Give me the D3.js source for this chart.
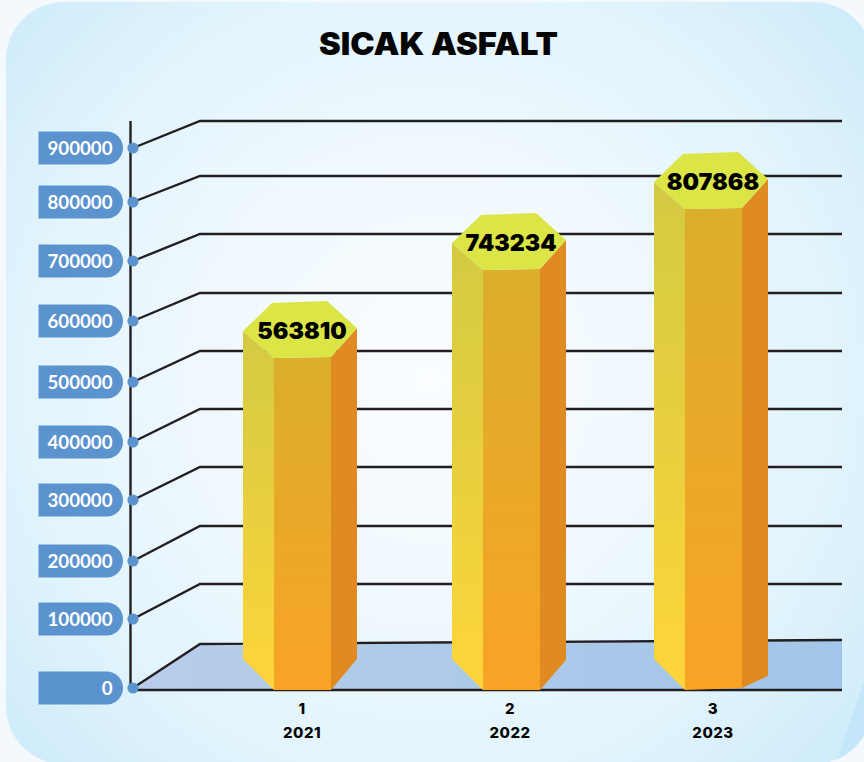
<!DOCTYPE html>
<html><head><meta charset="utf-8">
<script src="https://cdn.jsdelivr.net/npm/d3@7/dist/d3.min.js"></script>
<style>html,body{margin:0;padding:0;background:#f3f9fd;overflow:hidden}svg{display:block}</style>
</head><body><div id="chart"></div>
<script>
const chartTitle = "SICAK ASFALT";
const tickValues = [0,100000,200000,300000,400000,500000,600000,700000,800000,900000];
const categories = ["1","2","3"];
const years = ["2021","2022","2023"];
const values = [563810,743234,807868];

const W=864,H=762;
const svg=d3.select("#chart").append("svg").attr("width",W).attr("height",H);
const defs=svg.append("defs");
function grad(id,stops,a){const g=defs.append("linearGradient").attr("id",id)
  .attr("x1",a[0]).attr("y1",a[1]).attr("x2",a[2]).attr("y2",a[3]);
  stops.forEach(s=>g.append("stop").attr("offset",s[0]).attr("stop-color",s[1]));}
const bg=defs.append("radialGradient").attr("id","bg").attr("gradientUnits","userSpaceOnUse")
  .attr("cx",430).attr("cy",380).attr("r",590);
[[0,"#fbfdff"],[0.35,"#f1f9fe"],[0.68,"#e2f4fc"],[1,"#cbeafa"]].forEach(s=>bg.append("stop").attr("offset",s[0]).attr("stop-color",s[1]));
grad("gLeft",[[0,"#d3ca42"],[1,"#fed53a"]],["0","0","0","1"]);
grad("gFront",[[0,"#dbae2b"],[1,"#f9a325"]],["0","0","0","1"]);
grad("gFloor",[[0,"#b8cdea"],[1,"#a2c6e9"]],["0","0","1","0"]);

svg.append("rect").attr("width",W).attr("height",H).attr("fill","#f3f9fd");
defs.append("clipPath").attr("id","card").append("rect").attr("x",6).attr("y",2).attr("width",866).attr("height",762).attr("rx",58);
const card=svg.append("g").attr("clip-path","url(#card)");
card.append("rect").attr("x",6).attr("y",2).attr("width",866).attr("height",762).attr("fill","url(#bg)");
card.append("path").attr("fill","#c3e6f9").attr("d",d3.line()([[838,757],[864,682],[872,682],[872,764],[838,764]]));

svg.append("text").attr("x",438.5).attr("y",55).attr("text-anchor","middle")
  .attr("font-family","Inter").attr("font-weight",900).attr("font-size",31)
  .attr("textLength",239).attr("lengthAdjust","spacingAndGlyphs")
  .attr("fill","#050505").text(chartTitle);

// scales: the picture's axis spacing is uneven, so they are piecewise
const yFront=d3.scaleLinear().domain(tickValues).range([688,619,561,500,442,382,321,261,202,148]);
const yBack=d3.scaleLinear().domain(tickValues).range([644,584,526,467,409,351,293,234,176,121]);
const yTop=d3.scaleLinear().domain([0,...values]).range([690,331,243,182]);
const x=d3.scaleOrdinal().domain(categories).range([302,510,713]);
const xBar=d3.scaleOrdinal().domain(categories).range([302,511,713]);
const line=d3.line();
const poly=p=>line(p)+"Z";

const xDot=133,xBend=200,xEnd=842,ink="#231f20";
svg.append("path").attr("fill","url(#gFloor)")
  .attr("d",poly([[xDot,yFront(0)+2],[xBend,yBack(0)],[xEnd,640],[xEnd,yFront(0)+2]]));

const grid=svg.append("g").attr("fill","none").attr("stroke",ink).attr("stroke-width",2.4);
grid.selectAll("path").data(tickValues).join("path")
  .attr("d",v=>v===0?line([[xDot,yFront(0)],[xBend,yBack(0)],[xEnd,640]])
                    :line([[xDot,yFront(v)],[xBend,yBack(v)],[xEnd,yBack(v)]]));
grid.append("path").attr("d",line([[xDot,yFront(0)+2],[xEnd,yFront(0)+2]]));
grid.append("path").attr("d",line([[130.5,121],[130.5,yFront(0)+3]]));

const ticks=svg.append("g").selectAll("g").data(tickValues).join("g")
  .attr("transform",v=>`translate(0,${yFront(v)})`);
ticks.append("path").attr("fill","#5b93cf").attr("d",()=>{
  const l=38.5,r=123,h=16.5;
  const p=d3.path();p.moveTo(l,-h);p.lineTo(r-h,-h);p.arc(r-h,0,h,-Math.PI/2,Math.PI/2);p.lineTo(l,h);p.closePath();return p.toString();});
ticks.append("circle").attr("cx",xDot).attr("r",5.6).attr("fill","#5b93cf");
ticks.append("text").attr("x",112.5).attr("y",7).attr("text-anchor","end")
  .attr("font-family","Lato").attr("font-weight",700).attr("font-size",18.7).attr("fill","#fff")
  .text(v=>v);

const base=690;
const bars=svg.append("g").selectAll("g").data(values).join("g")
  .attr("transform",(v,i)=>`translate(${xBar(categories[i])},0)`);
// foot of the right face rises differently under each bar
const rightFoot=[31,30,14], frontFoot=[0,0,2];
bars.append("path").attr("fill","url(#gLeft)").attr("d",v=>{const t=yTop(v);
  return poly([[-59,t],[-28,t+27],[-28,base],[-59,base-31]]);});
bars.append("path").attr("fill","#e08b22").attr("d",(v,i)=>{const t=yTop(v);
  return poly([[29,t+26],[55,t-3],[55,base-rightFoot[i]],[29,base-frontFoot[i]]]);});
bars.append("path").attr("fill","url(#gFront)").attr("d",(v,i)=>{const t=yTop(v);
  return poly([[-28,t+27],[29,t+26],[29,base-frontFoot[i]],[-28,base]]);});
bars.append("path").attr("fill","#dbe545").attr("d",v=>{const t=yTop(v);
  return poly([[-59,t],[-30,t-28],[25,t-30],[55,t-3],[29,t+26],[-28,t+27]]);});
bars.append("text").attr("x",0).attr("y",v=>yTop(v)+8).attr("text-anchor","middle")
  .attr("font-family","Inter").attr("font-weight",900).attr("font-size",23.2).attr("fill","#000")
  .text(v=>v);

const xl=svg.append("g").selectAll("g").data(categories).join("g")
  .attr("transform",c=>`translate(${x(c)},0)`)
  .attr("font-family","Inter").attr("font-weight",800).attr("font-size",15).attr("letter-spacing",0.5).attr("fill","#050505").attr("text-anchor","middle");
xl.append("text").attr("y",714).text(c=>c);
xl.append("text").attr("y",738).text((c,i)=>years[i]);
</script></body></html>
